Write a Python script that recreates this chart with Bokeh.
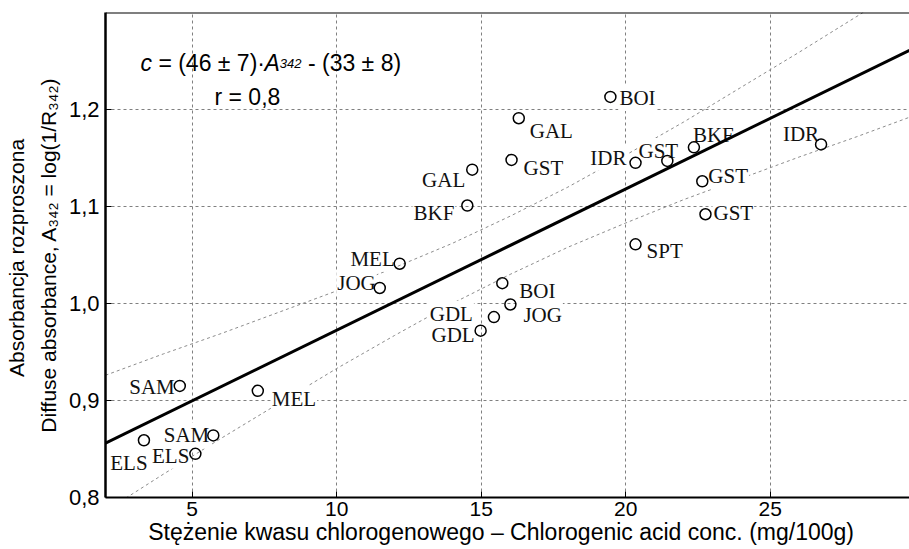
import math
from bokeh.plotting import figure
from bokeh.models import (ColumnDataSource, Label, Range1d, FixedTicker,
                          CustomJSTickFormatter, Span)
from bokeh.core.properties import value
from bokeh.embed import file_html
from bokeh.resources import INLINE

# ---------------- data ----------------
codes = ["BOI", "GAL", "GST", "GAL", "IDR", "GST", "BKF", "GST", "IDR", "BKF",
         "GST", "SPT", "BOI", "JOG", "GDL", "GDL", "MEL", "JOG", "SAM", "MEL",
         "SAM", "ELS", "ELS"]
conc = [19.47, 16.30, 16.05, 14.69, 20.34, 21.44, 22.36, 22.65, 26.76, 14.52,
        22.76, 20.34, 15.73, 16.01, 15.44, 14.98, 12.18, 11.49, 4.57, 7.27,
        5.73, 3.33, 5.11]
absorb = [1.213, 1.191, 1.148, 1.138, 1.145, 1.147, 1.161, 1.126, 1.164, 1.101,
          1.092, 1.061, 1.021, 0.999, 0.986, 0.972, 1.041, 1.016, 0.915, 0.910,
          0.864, 0.859, 0.845]

fit_x = [2.0, 29.82]
fit_y = [0.856, 1.261]

band_x = [2, 4, 6, 8, 10, 12, 14, 16, 18, 20, 22, 24, 26, 28, 30]
band_upper = [0.926, 0.948, 0.969, 0.991, 1.013, 1.037, 1.062, 1.090, 1.120,
              1.153, 1.187, 1.223, 1.259, 1.296, 1.334]
band_lower = [0.786, 0.824, 0.861, 0.897, 0.933, 0.967, 1.000, 1.030, 1.058,
              1.083, 1.107, 1.129, 1.151, 1.172, 1.194]

x_ticks = [5, 10, 15, 20, 25]
y_ticks = [0.8, 0.9, 1.0, 1.1, 1.2]
y_tick_labels = ["0,8", "0,9", "1,0", "1,1", "1,2"]

x_title = "Stężenie kwasu chlorogenowego  –  Chlorogenic acid conc. (mg/100g)"
y_title = "Absorbancja  rozproszona\nDiffuse absorbance, A₃₄₂ = log(1/R₃₄₂)"

# ---------------- label placement (style) ----------------
# (dx px, dy px down to baseline, align)
label_place = [
    (8, 1, "left"), (10, 13, "left"), (11, 8, "left"), (-6, 10, "right"),
    (-8, -5, "right"), (-9, -10, "center"), (-2, -12, "left"), (5, -5, "left"),
    (-1, -10, "right"), (-12, 7, "right"), (7, -1, "left"), (10, 7, "left"),
    (16, 8, "left"), (12, 11, "left"), (-20, -3, "right"), (-5, 4, "right"),
    (-4, -5, "right"), (-3, -5, "right"), (-4, 1, "right"), (13, 8, "left"),
    (-3, 0, "right"), (-15, 23, "center"), (-5, 2, "right"),
]

FL, FT, FB = 105, 12, 497   # frame left / top / bottom in canvas px
SANS = "Liberation Sans"
SERIF = "Liberation Serif"

p = figure(width=909, height=549, x_range=Range1d(2.0, 29.82),
           y_range=Range1d(0.8, 1.3), output_backend="svg",
           toolbar_location=None, min_border_left=FL, min_border_right=0,
           min_border_top=FT, min_border_bottom=549 - FB)
p.outline_line_color = None
p.background_fill_color = "white"
p.border_fill_color = "white"

# axes
xa = p.xaxis[0]
ya = p.yaxis[0]
xa.ticker = FixedTicker(ticks=x_ticks)
ya.ticker = FixedTicker(ticks=y_ticks)
ya.formatter = CustomJSTickFormatter(args=dict(t=y_ticks, l=y_tick_labels), code="""
    for (let i = 0; i < t.length; i++) { if (Math.abs(tick - t[i]) < 1e-6) return l[i]; }
    return '';
""")
for ax in (xa, ya):
    ax.major_tick_in = 6
    ax.major_tick_out = 0
    ax.minor_tick_in = 0
    ax.minor_tick_out = 0
    ax.axis_line_color = "black"
    ax.major_tick_line_color = "black"
    ax.major_label_text_font = SANS
    ax.major_label_text_color = "black"
    ax.axis_label_text_font = SANS
    ax.axis_label_text_font_style = "normal"
    ax.axis_label_text_color = "black"
xa.major_label_text_font_size = "21px"
ya.major_label_text_font_size = "22px"
xa.axis_line_width = 2
ya.axis_line_width = 2.5
xa.major_label_standoff = 4
ya.major_label_standoff = 6

xa.axis_label = x_title
xa.axis_label_text_font_size = "23px"
xa.axis_label_standoff = 0

ya.axis_label = y_title
ya.axis_label_text_font_size = "21px"
ya.axis_label_text_line_height = 1.4
ya.axis_label_standoff = 6

# grid
for g, tk in ((p.xgrid[0], x_ticks), (p.ygrid[0], y_ticks)):
    g.ticker = FixedTicker(ticks=tk)
    g.grid_line_color = "#808080"
    g.grid_line_dash = "3 3"
    g.grid_line_width = 1

# top border
p.add_layout(Span(location=1.3, dimension="width", line_color="black", line_width=2))

# confidence bands
p.line(band_x, band_upper, line_color="#8c8c8c", line_width=1, line_dash="3 3")
p.line(band_x, band_lower, line_color="#8c8c8c", line_width=1, line_dash="3 3")

# point labels (white boxes like the original)
groups = {}
for i, (dx, dy, al) in enumerate(label_place):
    groups.setdefault(al, []).append(i)
for al, idx in groups.items():
    src = ColumnDataSource(dict(
        x=[conc[i] for i in idx], y=[absorb[i] for i in idx],
        t=[codes[i] for i in idx],
        dx=[label_place[i][0] for i in idx], dy=[label_place[i][1] for i in idx]))
    p.text(x="x", y="y", text="t", source=src, x_offset="dx", y_offset="dy",
           text_align=al, text_baseline="alphabetic",
           text_font=value(SERIF), text_font_size="21px", text_color="#111111",
           background_fill_color="white", padding=1)

# regression line
p.line(fit_x, fit_y, line_color="black", line_width=3)

# points
p.scatter(conc, absorb, marker="circle", size=11, fill_color=None,
          line_color="black", line_width=1.5)

# ---------------- rich text helper (inside the frame) ----------------
HELV = {' ': 278, '(': 333, ')': 333, ',': 278, '-': 333, '.': 278, '/': 278,
        '=': 584, '±': 584, '·': 278, 'A': 667, 'c': 500, 'r': 333}


def tw(s, size):
    return sum(HELV.get(ch, 556) for ch in s) * size / 1000.0


def rich(segs, cx, cy):
    pos = 0.0
    for text, size, style, shift in segs:
        lead = len(text) - len(text.lstrip(' '))
        core = text.strip(' ')
        start = pos + tw(' ', size) * lead
        p.add_layout(Label(x=cx + start - FL, y=FB - (cy + shift),
                           x_units="screen", y_units="screen",
                           text=core, text_font=SANS,
                           text_font_size=f"{size}px", text_font_style=style,
                           text_align="left", text_baseline="alphabetic",
                           text_color="black"))
        pos += tw(text, size)


rich([("c", 23, "italic", 0), (" = (46 ± 7)·", 23, "normal", 0),
      ("A", 23, "italic", 0), ("342", 13, "italic", 1),
      (" -  (33 ± 8)", 23, "normal", 0)], 140, 62)
rich([("r =  0,8", 23, "normal", 0)], 214, 96)

open("out.html", "w").write(file_html(p, INLINE))
